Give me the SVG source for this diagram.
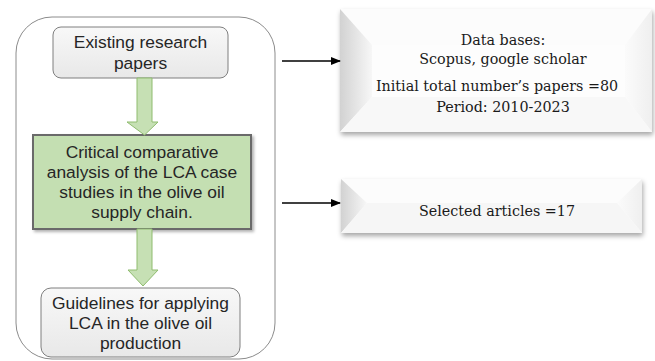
<svg xmlns="http://www.w3.org/2000/svg" width="655" height="361" viewBox="0 0 655 361">
<defs>
<style>
.sans{font-family:"Liberation Sans",Arial,sans-serif;font-size:17.4px;fill:#262626;text-anchor:middle}
.serif{font-family:"DejaVu Serif","Liberation Serif",serif;font-size:14.3px;fill:#1a1a1a;text-anchor:middle}
.gbox{fill:url(#gray);stroke:#7f7f7f;stroke-width:1}
.garrow{fill:#c6e0b4;stroke:#8fbc6f;stroke-width:1}
.conn{stroke:#000;stroke-width:1.3;fill:none}
</style>
<linearGradient id="gray" x1="0" y1="0" x2="0" y2="1">
<stop offset="0" stop-color="#f8f8f8"/><stop offset="1" stop-color="#e8e8e8"/>
</linearGradient>
<linearGradient id="bevL" x1="0" y1="0" x2="1" y2="0">
<stop offset="0" stop-color="#d2d2d2"/><stop offset="1" stop-color="#f7f7f7"/>
</linearGradient>
<linearGradient id="bevR" x1="0" y1="0" x2="1" y2="0">
<stop offset="0" stop-color="#fbfbfb"/><stop offset="1" stop-color="#efefef"/>
</linearGradient>
<filter id="sh" x="-10%" y="-20%" width="125%" height="150%">
<feDropShadow dx="1" dy="3" stdDeviation="2.5" flood-color="#000" flood-opacity="0.35"/>
</filter>
<filter id="sh2" x="-10%" y="-10%" width="125%" height="130%">
<feDropShadow dx="2" dy="2" stdDeviation="1.5" flood-color="#000" flood-opacity="0.3"/>
</filter>
<marker id="ah" markerWidth="10" markerHeight="8" refX="9" refY="4" orient="auto" markerUnits="userSpaceOnUse">
<path d="M0,0 L10,4 L0,8 Z" fill="#000"/>
</marker>
</defs>
<rect width="655" height="361" fill="#fff"/>

<g id="frame">
<rect x="16" y="17" width="259" height="342" rx="36" ry="36" fill="#fff" stroke="#8c8c8c" stroke-width="1"/>
</g>

<g id="node-existing">
<rect class="gbox" x="53" y="27" width="175" height="51" rx="8"/>
<text class="sans" x="140.5" y="48">Existing research</text>
<text class="sans" x="140.5" y="69">papers</text>
</g>

<g id="node-critical">
<rect x="33" y="135" width="218" height="94" fill="#c4dfb2" stroke="#6b6b6b" stroke-width="2" filter="url(#sh2)"/>
<text class="sans" x="142" y="158">Critical comparative</text>
<text class="sans" x="142" y="178">analysis of the LCA case</text>
<text class="sans" x="142" y="198">studies in the olive oil</text>
<text class="sans" x="142" y="218">supply chain.</text>
</g>

<g id="node-guidelines">
<rect class="gbox" x="41" y="288" width="199" height="69" rx="10"/>
<text class="sans" x="140.5" y="309">Guidelines for applying</text>
<text class="sans" x="140.5" y="329">LCA in the olive oil</text>
<text class="sans" x="140.5" y="349">production</text>
</g>

<g id="node-databases" filter="url(#sh)">
<rect x="340" y="9" width="312" height="123" fill="#fcfcfc"/>
<path d="M340,9 L372,45 L372,97 L340,132 Z" fill="url(#bevL)"/>
<path d="M652,9 L625,45 L625,97 L652,132 Z" fill="url(#bevR)"/>
<path d="M340,132 L372,97 L625,97 L652,132 Z" fill="#f8f8f8"/>
<rect x="372" y="45" width="253" height="52" fill="#fdfdfd"/>
</g>
<g id="text-databases">
<text class="serif" x="503" y="45">Data bases:</text>
<text class="serif" x="503" y="64">Scopus, google scholar</text>
<text class="serif" x="497" y="91">Initial total number’s papers =80</text>
<text class="serif" x="503" y="112">Period: 2010-2023</text>
</g>

<g id="node-selected" filter="url(#sh)">
<rect x="341" y="179" width="301" height="54" fill="#fcfcfc"/>
<path d="M341,179 L367,203 L341,233 Z" fill="url(#bevL)"/>
<path d="M642,179 L617,203 L642,233 Z" fill="url(#bevR)"/>
<path d="M341,233 L367,203 L617,203 L642,233 Z" fill="#f6f6f6"/>
</g>
<g id="text-selected">
<text class="serif" x="497" y="216">Selected articles =17</text>
</g>

<g id="connectors">
<path class="garrow" d="M137,78 L152,78 L152,122 L158,122 L144.5,135 L127,122 L137,122 Z"/>
<path class="garrow" d="M137,229 L152,229 L152,270 L158,270 L143,286 L128,270 L137,270 Z"/>
<line class="conn" x1="282" y1="61" x2="340" y2="61" marker-end="url(#ah)"/>
<line class="conn" x1="282" y1="203" x2="340" y2="203" marker-end="url(#ah)"/>
</g>
</svg>
